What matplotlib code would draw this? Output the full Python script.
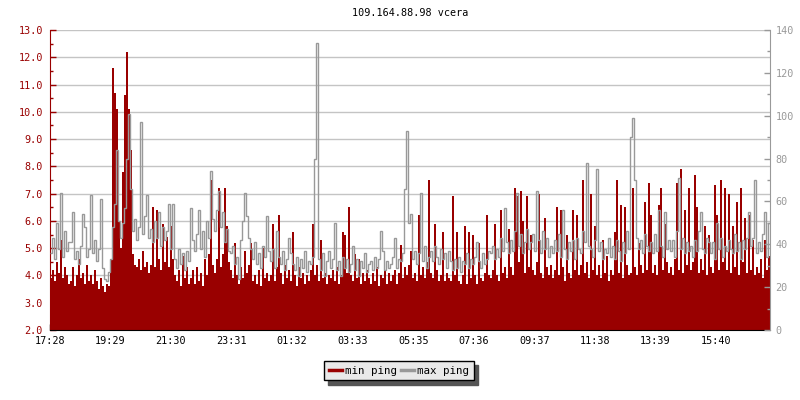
import numpy as np
import matplotlib
matplotlib.use("Agg")
import matplotlib.pyplot as plt
from matplotlib.ticker import MultipleLocator, FormatStrFormatter

title = "109.164.88.98 vcera"
tick_labels = ["17:28", "19:29", "21:30", "23:31", "01:32", "03:33",
               "05:35", "07:36", "09:37", "11:38", "13:39", "15:40"]
span_minutes = 1440

# min ping (ms, left axis), one value per 4 minutes
min_ping = [
    3.9, 4.2, 3.8, 4.5, 4.1, 5.3, 3.9, 4.3, 4.0, 3.7,
    3.8, 4.3, 3.6, 4.0, 4.6, 3.9, 4.1, 3.7, 4.4, 3.8,
    4.0, 3.7, 4.2, 3.8, 3.5, 3.9, 3.6, 3.4, 3.7, 3.6,
    4.6, 11.6, 10.7, 10.1, 6.0, 5.0, 7.8, 10.6, 12.2, 10.1,
    8.6, 4.8, 4.4, 4.3, 4.6, 4.2, 4.9, 4.3, 4.5, 4.1,
    4.4, 6.5, 4.3, 6.4, 4.6, 4.2, 5.9, 4.5, 5.4, 4.3,
    5.8, 4.6, 4.0, 3.8, 4.2, 3.6, 4.7, 3.9, 4.3, 3.7,
    3.9, 4.2, 3.7, 4.3, 3.8, 4.1, 3.6, 4.6, 4.0, 4.8,
    7.5, 4.4, 4.1, 4.6, 7.2, 4.3, 4.8, 7.2, 5.8, 4.5,
    4.2, 3.9, 5.2, 4.0, 3.7, 4.3, 3.9, 4.9, 4.1, 4.4,
    5.2, 3.8, 4.0, 3.7, 4.2, 3.6, 5.0, 3.9, 4.1, 3.8,
    4.0, 5.9, 3.8, 4.3, 6.2, 4.1, 3.7, 4.4, 3.9, 4.2,
    3.8, 5.6, 4.0, 3.6, 4.3, 3.9, 4.1, 3.7, 4.0, 3.8,
    4.2, 5.9, 4.0, 4.4, 3.8, 5.3, 3.9, 4.1, 3.7, 4.0,
    3.9, 4.2, 3.8, 4.3, 3.7, 4.0, 5.6, 5.5, 4.1, 6.5,
    4.0, 3.8, 4.8, 3.9, 4.6, 3.7, 4.1, 3.8, 4.2, 3.9,
    3.7, 4.1, 3.8, 4.3, 3.6, 4.0, 3.9, 4.2, 3.7, 4.1,
    3.8, 4.0, 4.2, 3.7, 4.1, 5.1, 3.9, 4.3, 4.0, 4.4,
    4.9, 3.9, 4.1, 3.8, 6.2, 4.0, 4.3, 3.9, 4.5, 7.5,
    4.1, 3.9, 5.9, 4.2, 3.8, 4.0, 5.6, 3.8, 4.1, 3.9,
    3.8, 6.9, 4.0, 5.6, 3.8, 3.7, 4.0, 5.8, 3.7, 5.6,
    3.9, 5.5, 4.0, 3.7, 5.2, 3.9, 3.8, 4.1, 6.2, 4.0,
    3.9, 4.2, 5.9, 4.0, 3.8, 6.4, 4.1, 4.3, 3.9, 5.7,
    4.3, 4.0, 7.2, 6.9, 4.5, 7.1, 6.0, 4.1, 6.9, 4.3,
    5.5, 4.2, 4.0, 4.5, 7.0, 4.1, 3.9, 6.1, 4.3, 4.0,
    4.4, 3.9, 4.2, 6.5, 4.0, 6.4, 4.3, 3.8, 5.5, 4.1,
    3.9, 6.4, 4.2, 6.2, 4.0, 4.4, 7.5, 4.1, 4.5, 3.9,
    7.0, 4.2, 5.8, 4.0, 4.4, 3.9, 5.3, 4.1, 4.7, 3.8,
    4.2, 4.0, 5.6, 7.5, 4.1, 6.6, 3.9, 6.5, 4.4, 4.0,
    4.1, 7.2, 4.3, 4.0, 5.2, 4.4, 4.1, 6.7, 4.2, 7.4,
    6.2, 4.1, 4.4, 4.0, 6.6, 7.2, 4.2, 5.9, 4.5, 4.1,
    4.3, 4.0, 4.6, 7.4, 4.2, 7.9, 4.1, 6.4, 4.4, 7.2,
    4.2, 4.5, 7.7, 6.5, 4.1, 4.6, 4.2, 5.8, 4.0, 5.5,
    4.3, 4.1, 7.3, 6.2, 4.2, 7.5, 4.5, 7.2, 4.2, 7.0,
    4.1, 5.8, 4.3, 6.7, 4.0, 7.2, 4.5, 6.1, 4.1, 6.2,
    4.2, 5.3, 4.0, 4.3, 4.1, 4.6, 3.9, 5.3, 4.2, 4.7,
]

# max ping (ms, right axis), one value per 4 minutes
max_ping = [
    36, 43, 33, 50, 38, 64, 34, 46, 37, 41,
    41, 55, 33, 37, 31, 39, 54, 48, 34, 38,
    63, 36, 42, 32, 38, 61, 29, 24, 23, 27,
    33, 48, 59, 84, 51, 43, 50, 57, 80, 101,
    66, 46, 52, 42, 48, 97, 45, 53, 63, 43,
    47, 41, 51, 43, 55, 39, 48, 42, 46, 59,
    38, 59, 33, 29, 38, 31, 36, 28, 37, 32,
    57, 42, 37, 45, 56, 38, 46, 34, 51, 43,
    74, 52, 46, 56, 65, 48, 55, 41, 47, 37,
    36, 39, 31, 34, 24, 42, 51, 64, 53, 43,
    38, 33, 41, 31, 36, 29, 39, 34, 53, 37,
    32, 38, 29, 46, 34, 31, 37, 28, 33, 43,
    36, 31, 28, 34, 25, 33, 29, 37, 27, 32,
    31, 34, 80, 134, 33, 28, 36, 25, 32, 37,
    29, 33, 50, 28, 32, 25, 34, 29, 33, 27,
    31, 39, 28, 33, 25, 32, 29, 36, 27, 31,
    32, 28, 34, 29, 33, 46, 37, 28, 32, 29,
    31, 34, 43, 29, 33, 32, 36, 66, 93, 50,
    54, 33, 37, 31, 36, 64, 32, 39, 29, 34,
    37, 32, 39, 34, 31, 38, 33, 36, 29, 37,
    32, 28, 33, 29, 34, 27, 32, 31, 36, 29,
    33, 31, 34, 41, 32, 29, 36, 31, 33, 37,
    36, 39, 33, 38, 34, 43, 37, 57, 41, 36,
    42, 37, 46, 64, 39, 45, 36, 41, 47, 38,
    41, 45, 37, 65, 42, 36, 46, 38, 43, 34,
    39, 36, 42, 37, 45, 34, 56, 38, 33, 41,
    37, 42, 33, 43, 38, 36, 46, 41, 78, 39,
    38, 34, 42, 75, 37, 41, 33, 38, 36, 43,
    34, 39, 33, 42, 37, 32, 41, 36, 46, 38,
    90, 99, 70, 43, 38, 42, 36, 45, 39, 37,
    41, 36, 45, 37, 56, 39, 34, 55, 38, 42,
    37, 42, 34, 46, 71, 38, 43, 36, 41, 37,
    39, 34, 42, 37, 46, 55, 38, 36, 43, 41,
    36, 41, 33, 50, 38, 43, 34, 39, 37, 42,
    38, 36, 45, 37, 41, 33, 42, 38, 43, 55,
    39, 43, 70, 36, 41, 37, 45, 55, 34, 50,
]

RED = "#990000"
GRAY = "#999999"
FONT = "DejaVu Sans Mono"
FS = 7.3

plt.rcParams["font.family"] = [FONT]

fig = plt.figure(figsize=(8, 4), dpi=100)
ax = fig.add_axes([50 / 800, 70 / 400, 720 / 800, 300 / 400])
ax2 = ax.twinx()

n = len(min_ping)
edges = np.linspace(0, span_minutes, n + 1)

ax.stairs(min_ping, edges, baseline=2.0, fill=True, color=RED, lw=0, zorder=2)
ax2.stairs(max_ping, edges, baseline=None, color=GRAY, lw=1.0, zorder=3)

ax.set_xlim(0, span_minutes)
ax.set_ylim(2.0, 13.0)
ax2.set_ylim(0, 140)


def to_min(s):
    h, m = map(int, s.split(":"))
    return h * 60 + m


t0 = to_min(tick_labels[0])
tick_pos = [(to_min(s) - t0) % 1440 for s in tick_labels]
ax.set_xticks(tick_pos)
ax.set_xticklabels(tick_labels)

ax.yaxis.set_major_locator(MultipleLocator(1.0))
ax.yaxis.set_minor_locator(MultipleLocator(0.5))
ax.yaxis.set_major_formatter(FormatStrFormatter("%.1f"))
ax2.yaxis.set_major_locator(MultipleLocator(20))
ax2.yaxis.set_minor_locator(MultipleLocator(10))

ax.grid(axis="y", which="major", color="#c4c4c4", lw=1.0, zorder=0)
ax.set_axisbelow(True)

ax.tick_params(axis="y", which="major", direction="in", length=4, width=1,
               colors=RED, labelsize=FS, pad=5)
ax.tick_params(axis="y", which="minor", direction="in", length=2.5, width=1, colors=RED)
ax.tick_params(axis="x", which="major", direction="in", length=4, width=1,
               colors="black", labelsize=FS, pad=4)
ax2.tick_params(axis="y", which="major", direction="in", length=4, width=1,
                colors=GRAY, labelsize=FS, pad=4)
ax2.tick_params(axis="y", which="minor", direction="in", length=2.5, width=1, colors=GRAY)

for a in (ax, ax2):
    a.spines["top"].set_visible(False)
ax.spines["left"].set_color(RED)
ax.spines["bottom"].set_color("black")
ax.spines["right"].set_visible(False)
ax2.spines["left"].set_visible(False)
ax2.spines["bottom"].set_visible(False)
ax2.spines["right"].set_color(GRAY)

fig.text(0.5125, 1 - 13 / 400, title, ha="center", va="center", fontsize=FS, color="black")

h1 = plt.Line2D([], [], color=RED, lw=2.5)
h2 = plt.Line2D([], [], color=GRAY, lw=2.5)
leg = fig.legend([h1, h2], ["min ping", "max ping"], ncol=2,
                 loc="center", bbox_to_anchor=(399 / 800, 1 - 370.5 / 400),
                 fontsize=FS + 0.5, frameon=True, fancybox=False,
                 handlelength=1.2, handletextpad=0.3, columnspacing=0.3,
                 borderpad=0.45, borderaxespad=0,
                 shadow={"ox": 3, "oy": -3, "color": "#555555", "alpha": 1.0})
leg.get_frame().set_facecolor("#e9e9e9")
leg.get_frame().set_edgecolor("black")
leg.get_frame().set_linewidth(1.0)
leg.get_frame().set_alpha(1.0)

fig.savefig("out.png", dpi=100, facecolor="white")
